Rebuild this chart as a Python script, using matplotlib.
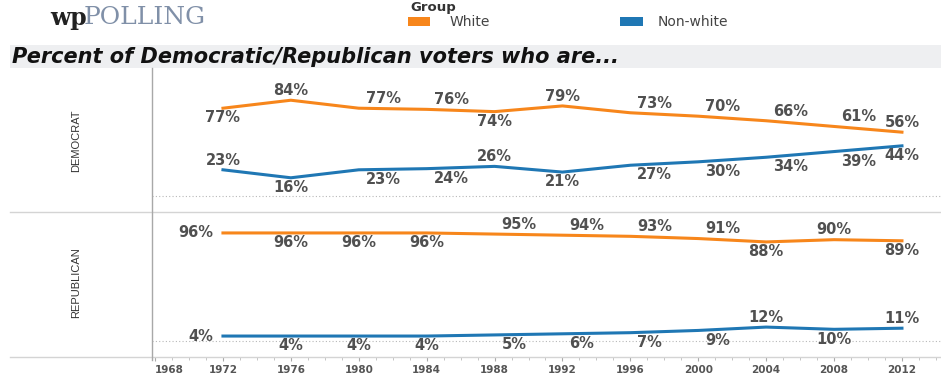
import matplotlib
matplotlib.use('Agg')
import matplotlib.pyplot as plt
from matplotlib.patches import Rectangle
from matplotlib.lines import Line2D
from matplotlib.ticker import MultipleLocator

# data
years = [1972, 1976, 1980, 1984, 1988, 1992, 1996, 2000, 2004, 2008, 2012]
dem_white = [77, 84, 77, 76, 74, 79, 73, 70, 66, 61, 56]
dem_nonwhite = [23, 16, 23, 24, 26, 21, 27, 30, 34, 39, 44]
rep_white = [96, 96, 96, 96, 95, 94, 93, 91, 88, 90, 89]
rep_nonwhite = [4, 4, 4, 4, 5, 6, 7, 9, 12, 10, 11]
tick_years = [1968, 1972, 1976, 1980, 1984, 1988, 1992, 1996, 2000, 2004, 2008, 2012]

# where each value label sits: a=above, b=below, ar/br=above/below right, l=left
dem_white_pos = ['b', 'a', 'ar', 'ar', 'b', 'a', 'ar', 'ar', 'ar', 'ar', 'a']
dem_nonwhite_pos = ['a', 'b', 'br', 'br', 'a', 'b', 'br', 'br', 'br', 'br', 'b']
rep_white_pos = ['l', 'b', 'b', 'b', 'ar', 'ar', 'ar', 'ar', 'b', 'a', 'b']
rep_nonwhite_pos = ['l', 'b', 'b', 'b', 'br', 'br', 'br', 'br', 'a', 'b', 'a']

ORANGE = '#f7861b'
BLUE = '#1f77b4'
LABEL_GRAY = '#505050'

W, H = 941, 377
fig = plt.figure(figsize=(W / 100, H / 100), dpi=100)


def fx(px):
    return px / W


def fy(py):
    return 1 - py / H


def label_points(ax, xs, ys, pos):
    offs = {'a': (0, 7, 'center'), 'b': (0, -7, 'center'),
            'ar': (5, 7, 'left'), 'br': (5, -7, 'left'), 'l': (-7, 0, 'right')}
    for x, y, p in zip(xs, ys, pos):
        dx, dy, ha = offs[p]
        ax.annotate(f'{y}%', (x, y), xytext=(dx, dy), textcoords='offset points',
                    ha=ha, va='center', fontsize=10.5, fontweight='bold',
                    color=LABEL_GRAY, annotation_clip=False)


def setup_panel(ax, ylim):
    ax.set_xlim(1967.82, 2014.3)
    ax.set_ylim(*ylim)
    for s in ax.spines.values():
        s.set_visible(False)
    ax.set_yticks([])
    ax.axhline(0, color='#b8b8b8', lw=0.8, ls=(0, (1, 2)))
    ax.patch.set_alpha(0)


# panels
ax_dem = fig.add_axes([fx(152), fy(212), fx(941 - 152), (212 - 70) / H])
ax_rep = fig.add_axes([fx(152), fy(357), fx(941 - 152), (357 - 212) / H])
setup_panel(ax_dem, (-14, 110.5))
setup_panel(ax_rep, (-14.7, 114.7))

ax_dem.plot(years, dem_white, color=ORANGE, lw=2.2)
ax_dem.plot(years, dem_nonwhite, color=BLUE, lw=2.2)
ax_rep.plot(years, rep_white, color=ORANGE, lw=2.2)
ax_rep.plot(years, rep_nonwhite, color=BLUE, lw=2.2)

label_points(ax_dem, years, dem_white, dem_white_pos)
label_points(ax_dem, years, dem_nonwhite, dem_nonwhite_pos)
label_points(ax_rep, years, rep_white, rep_white_pos)
label_points(ax_rep, years, rep_nonwhite, rep_nonwhite_pos)

ax_dem.set_xticks([])
ax_rep.set_xticks(tick_years)
ax_rep.set_xticklabels([str(y) for y in tick_years], fontsize=7.5, fontweight='bold', color='#555555')
ax_rep.get_xticklabels()[0].set_ha('left')
ax_rep.xaxis.set_minor_locator(MultipleLocator(1))
ax_rep.tick_params(axis='x', which='major', length=3, color='#aaaaaa', pad=3)
ax_rep.tick_params(axis='x', which='minor', length=2, color='#bbbbbb')

# frame lines
fig.add_artist(Line2D([fx(10), 1], [fy(212), fy(212)], color='#d4d4d4', lw=1))
fig.add_artist(Line2D([fx(10), 1], [fy(357), fy(357)], color='#d4d4d4', lw=1))
fig.add_artist(Line2D([fx(152), fx(152)], [fy(68), fy(360)], color='#a8a8a8', lw=1))

# row labels
fig.text(fx(76), fy(141), 'DEMOCRAT', rotation=90, ha='center', va='center',
         fontsize=8, color='#333333', family=['Liberation Sans Narrow', 'Liberation Sans'])
fig.text(fx(76), fy(283), 'REPUBLICAN', rotation=90, ha='center', va='center',
         fontsize=8, color='#333333', family=['Liberation Sans Narrow', 'Liberation Sans'])

# title bar
fig.add_artist(Rectangle((fx(10), fy(68)), 1 - fx(10), (68 - 45) / H,
                         facecolor='#eeeff1', edgecolor='none'))
fig.text(fx(12), fy(57), 'Percent of Democratic/Republican voters who are...',
         ha='left', va='center', fontsize=15, fontweight='bold', style='italic', color='#111111')

# logo
fig.text(fx(50), fy(18), 'wp', ha='left', va='center', fontsize=17,
         fontweight='bold', family='DejaVu Serif', color='#222222')
fig.text(fx(84), fy(18), 'POLLING', ha='left', va='center', fontsize=18,
         family='DejaVu Serif', color='#8090a8')

# legend
fig.text(fx(410), fy(8), 'Group', ha='left', va='center', fontsize=9.5, fontweight='bold', color='#333333')
fig.add_artist(Rectangle((fx(408), fy(26)), fx(22), 9 / H, facecolor=ORANGE, edgecolor='none'))
fig.text(fx(450), fy(22), 'White', ha='left', va='center', fontsize=10, color='#444444')
fig.add_artist(Rectangle((fx(620), fy(26)), fx(23), 9 / H, facecolor=BLUE, edgecolor='none'))
fig.text(fx(658), fy(22), 'Non-white', ha='left', va='center', fontsize=10, color='#444444')

fig.savefig('out.png', dpi=100)
